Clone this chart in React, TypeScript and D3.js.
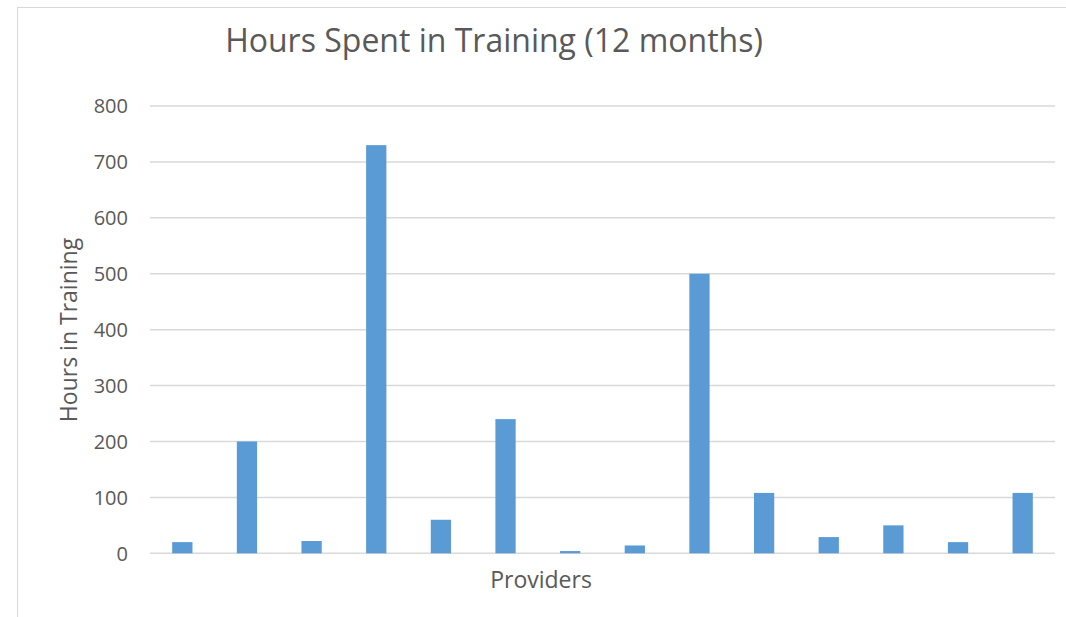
import React from 'react';
import * as d3 from 'd3';

const providers = ['P1', 'P2', 'P3', 'P4', 'P5', 'P6', 'P7', 'P8', 'P9', 'P10', 'P11', 'P12', 'P13', 'P14'];
const hours = [20, 200, 22, 730, 60, 240, 4, 14, 500, 108, 29, 50, 20, 108];
const yTicks = [0, 100, 200, 300, 400, 500, 600, 700, 800];

const W = 1066;
const H = 617;
const margin = { top: 106, right: 11, bottom: 63, left: 150 };

const App = () => {
  const innerW = W - margin.left - margin.right;
  const innerH = H - margin.top - margin.bottom - 0.7;

  const x = d3.scaleBand().domain(providers).range([0, innerW]).paddingInner(0).paddingOuter(0);
  const y = d3.scaleLinear().domain([0, 800]).range([innerH, 0]);
  const barW = x.bandwidth() / 3.19;
  const font = "'Open Sans', 'Liberation Sans', sans-serif";
  const textColor = '#595959';

  return (
    <svg width={W} height={H} style={{ position: 'absolute', left: 0, top: 0, background: '#fff' }}>
      <rect x={17.5} y={7.5} width={W} height={H} fill="#fff" stroke="#d9d9d9" strokeWidth={1} />
      <text x={494} y={52} textAnchor="middle" fontFamily={font} fontSize={32} fill={textColor}>
        Hours Spent in Training (12 months)
      </text>
      <g transform={`translate(${margin.left},${margin.top})`}>
        {yTicks.map(t => (
          <g key={t}>
            <line x1={0} x2={innerW} y1={y(t)} y2={y(t)} stroke="#d9d9d9" strokeWidth={1.5} />
            <text x={-22} y={y(t)} dy="0.36em" textAnchor="end" fontFamily={font} fontSize={20} fill={textColor}>
              {t}
            </text>
          </g>
        ))}
        {providers.map((p, i) => (
          <rect
            key={p}
            x={(x(p) as number) + (x.bandwidth() - barW) / 2}
            y={y(hours[i])}
            width={barW}
            height={innerH - y(hours[i])}
            fill="#5b9bd5"
          />
        ))}
        <text
          x={541 - margin.left}
          y={innerH + 35}
          textAnchor="middle"
          fontFamily={font}
          fontSize={23}
          fill={textColor}
        >
          Providers
        </text>
      </g>
      <text
        transform={`translate(77,${330}) rotate(-90)`}
        textAnchor="middle"
        fontFamily={font}
        fontSize={23}
        fill={textColor}
      >
        Hours in Training
      </text>
    </svg>
  );
};

export default App;
